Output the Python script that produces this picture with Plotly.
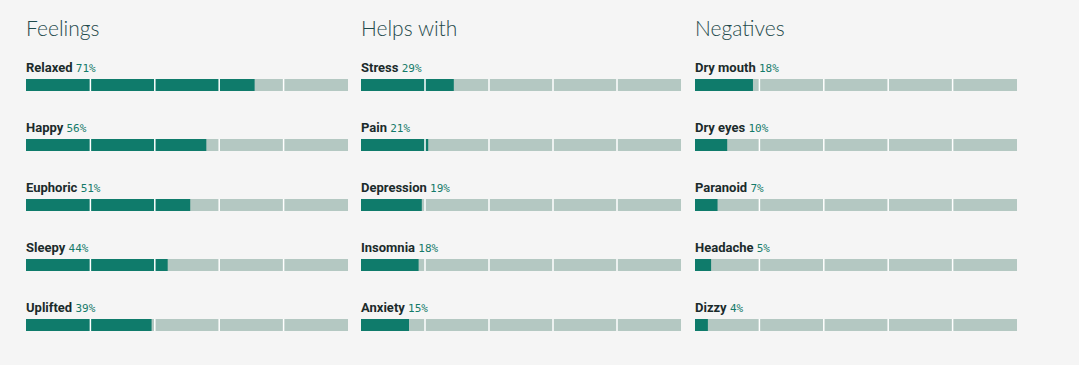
import plotly.graph_objects as go

# ---- data ----
groups = ["Feelings", "Helps with", "Negatives"]
feelings_labels = ["Relaxed", "Happy", "Euphoric", "Sleepy", "Uplifted"]
feelings_values = [71, 56, 51, 44, 39]
helps_labels = ["Stress", "Pain", "Depression", "Insomnia", "Anxiety"]
helps_values = [29, 21, 19, 18, 15]
neg_labels = ["Dry mouth", "Dry eyes", "Paranoid", "Headache", "Dizzy"]
neg_values = [18, 10, 7, 5, 4]
divider_ticks = [20, 40, 60, 80]
scale_max = 100

DARK = "#0f7b6b"
LIGHT = "#b4c8c2"
BG = "#f5f5f5"
TITLE_C = "#1f4a4c"
LABEL_C = "#1b2b2b"
PCT_C = "#147a69"

W, H = 1079, 365
ml, mr = 26, 62
plot_w = W - ml - mr
col_px = [(26, 348), (361, 681), (695, 1017)]
domains = [[(a - ml) / plot_w, (b - ml) / plot_w] for a, b in col_px]

row0_px, row_step, bar_px = 85, 60, 12
y_top = -row0_px / row_step
y_bot = (H - row0_px) / row_step
bar_w = bar_px / row_step

data = [(feelings_labels, feelings_values), (helps_labels, helps_values), (neg_labels, neg_values)]

fig = go.Figure()
shapes = []
annotations = []
for c, (labels, values) in enumerate(data):
    xa = "x" if c == 0 else f"x{c+1}"
    ya = "y" if c == 0 else f"y{c+1}"
    rows = list(range(len(labels)))
    fig.add_trace(go.Bar(x=[scale_max] * len(rows), y=rows, orientation="h", base=0,
                         width=bar_w, marker=dict(color=LIGHT, line=dict(width=0)),
                         xaxis=xa, yaxis=ya, hoverinfo="skip", showlegend=False))
    fig.add_trace(go.Bar(x=values, y=rows, orientation="h", base=0,
                         width=bar_w, marker=dict(color=DARK, line=dict(width=0)),
                         xaxis=xa, yaxis=ya, showlegend=False,
                         hovertemplate="%{x}%<extra></extra>"))
    for r in rows:
        for t in divider_ticks:
            shapes.append(dict(type="line", xref=xa, yref=ya, x0=t, x1=t,
                               y0=r - bar_w / 2, y1=r + bar_w / 2,
                               line=dict(color="white", width=1.5), layer="above"))
        annotations.append(dict(
            xref=xa, yref=ya, x=0, y=r, xanchor="left", yanchor="middle", yshift=18,
            xshift=-2, showarrow=False,
            text=f"<b>{labels[r]}</b> <span style='font-family:DejaVu Sans Mono;font-size:11px;color:{PCT_C}'>{values[r]}%</span>",
            font=dict(family="Roboto", size=13, color=LABEL_C)))
    annotations.append(dict(
        xref=f"{xa} domain", yref="paper", x=0, y=1 - 27 / H, xanchor="left", yanchor="middle",
        xshift=-2, showarrow=False, text=groups[c],
        font=dict(family="Lato", size=21, color=TITLE_C, weight=300)))

layout = dict(width=W, height=H, paper_bgcolor=BG, plot_bgcolor=BG,
              margin=dict(l=ml, r=mr, t=0, b=0), barmode="overlay",
              shapes=shapes, annotations=annotations)
for c in range(3):
    sx = "" if c == 0 else str(c + 1)
    layout[f"xaxis{sx}"] = dict(domain=domains[c], range=[0, scale_max], visible=False,
                                fixedrange=True, anchor=f"y{sx}")
    layout[f"yaxis{sx}"] = dict(range=[y_bot, y_top], visible=False, fixedrange=True,
                                anchor=f"x{sx}")
fig.update_layout(**layout)
fig.write_html("out.html", config={"displayModeBar": False},
               post_script="document.body.style.margin='0';document.body.style.background='#f5f5f5';")
